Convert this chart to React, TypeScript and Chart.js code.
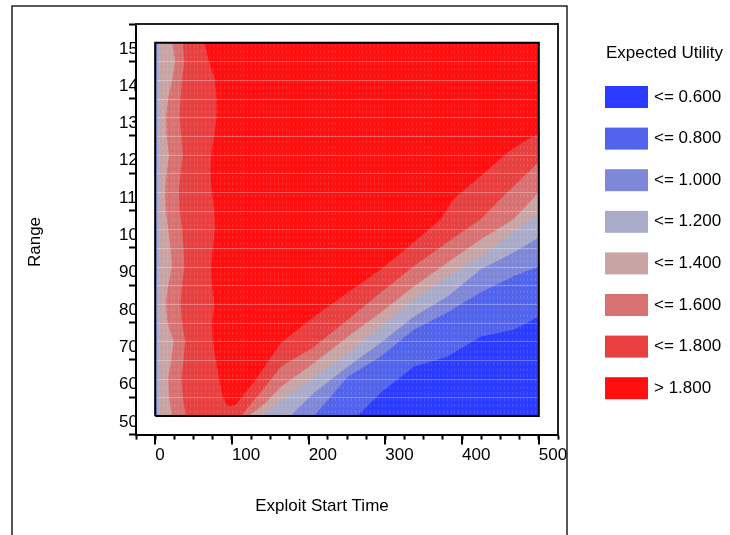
import { useEffect, useRef } from 'react';
import { Chart, registerables } from 'chart.js';

Chart.register(...registerables);

// ---- data domain ----
const timeMin = 0;
const timeMax = 500;
const rangeMin = 55;
const rangeMax = 155;

// ---- ticks ----
const xTickLabels = [0, 100, 200, 300, 400, 500];
const yTickLabels = [50, 60, 70, 80, 90, 100, 110, 120, 130, 140, 150];

const xTitle = 'Exploit Start Time';
const yTitle = 'Range';
const legendTitle = 'Expected Utility';

// ---- contour classes (lowest first) ----
const levelLabels = ['<= 0.600', '<= 0.800', '<= 1.000', '<= 1.200', '<= 1.400', '<= 1.600', '<= 1.800', '> 1.800'];
const levelColors = ['#2b3bff', '#5263ec', '#7f87d9', '#a9abc9', '#c8a4a4', '#d87272', '#e84040', '#ff0f0f'];

// Range rows at which the left-strip boundaries were read
const rangeRows = [155, 150, 145, 140, 135, 130, 125, 120, 115, 110, 105, 100, 95, 90, 85, 80, 75, 70, 65, 60, 55];

// boundary of the region "<= 1.800" (left strip, round the bottom tip of the red area, then the diagonal)
const edge18Time = [64, 70, 78, 80, 80, 77, 73, 72, 74, 77, 78, 75, 73, 74, 77, 74, 75, 79, 83, 88, 95, 105, 131, 164, 207, 251, 294, 337, 372, 389, 424, 460, 486, 500];
const edge18Range = [155, 150, 145, 140, 135, 130, 125, 120, 115, 110, 105, 100, 95, 90, 85, 80, 75, 70, 65, 60, 57.5, 58, 64.7, 74.6, 81.6, 88.1, 94.2, 101.5, 107.7, 113.1, 119.2, 125.7, 129.2, 130.5];

// "<= 1.600": left strip then diagonal
const left16Time = [36, 38, 35, 33, 32, 34, 36, 33, 31, 32, 35, 37, 38, 35, 33, 35, 39, 37, 34, 36, 40];
const diag16Time = [112, 138, 164, 207, 251, 294, 337, 381, 424, 450, 477, 500];
const diag16Range = [55, 61.5, 68.2, 73.5, 80.8, 88.1, 95.1, 101.5, 107.7, 113.1, 118.5, 123];

// "<= 1.400"
const left14Time = [22, 26, 22, 17, 14, 15, 18, 15, 13, 14, 17, 20, 22, 17, 14, 16, 24, 21, 17, 18, 22];
const diag14Time = [122, 144, 164, 207, 251, 294, 337, 381, 424, 467, 500];
const diag14Range = [55, 58.5, 62.8, 69.2, 76.2, 82.7, 89.7, 96.1, 102.3, 107.7, 114.9];

// "<= 1.200"
const left12Time = [6, 6, 5, 5, 5, 4, 5, 6, 5, 4, 5, 6, 6, 5, 4, 5, 6, 5, 5, 5, 6];
const diag12Time = [138, 164, 207, 251, 294, 337, 381, 424, 467, 500];
const diag12Range = [55, 59.3, 65.5, 71.9, 78.9, 86.2, 92.4, 97.7, 104.2, 109];

// "<= 1.000"
const left10Time = [2.5, 2.5, 2, 2, 2, 2, 2.5, 2, 2, 2, 2, 2.5, 2.5, 2, 2, 2, 2.5, 2, 2, 2, 2.5];
const diag10Time = [176, 207, 251, 294, 337, 381, 424, 467, 500];
const diag10Range = [55, 61.2, 68.2, 74.6, 81.6, 87, 94.2, 98.8, 102.8];

// "<= 0.800"
const diag08Time = [207, 251, 294, 337, 381, 424, 467, 500];
const diag08Range = [55, 65.5, 70.9, 78.1, 82.7, 88.1, 92.4, 95.1];

// "<= 0.600"
const diag06Time = [264, 294, 337, 381, 424, 467, 500];
const diag06Range = [55, 61.2, 68.2, 70.9, 76.2, 78.1, 81.6];

// faint mesh of the contour grid (row spacing in Range, column spacing in time)
const meshRangeStep = 5;
const meshTimeStep = 5;

type Pt = { x: number; y: number };

function regionPolygon(time: number[], range: number[]): Pt[] {
  const pts: Pt[] = [];
  if (range[0] === rangeMax) {
    pts.push({ x: timeMin, y: rangeMin }, { x: timeMin, y: rangeMax });
  }
  time.forEach((t, i) => pts.push({ x: t, y: range[i] }));
  pts.push({ x: timeMax, y: rangeMin });
  return pts;
}

const FONT = '"Liberation Sans", Arial, Helvetica, sans-serif';

const meshPlugin = {
  id: 'mesh',
  afterDatasetsDraw(chart: any) {
    const { ctx, scales } = chart;
    const xs = scales.x;
    const ys = scales.y;
    const l = xs.getPixelForValue(timeMin) + 1.5;
    const r = xs.getPixelForValue(timeMax) - 1.5;
    const t = ys.getPixelForValue(rangeMax) + 1.5;
    const b = ys.getPixelForValue(rangeMin) - 1.5;
    ctx.save();
    ctx.beginPath();
    ctx.rect(l, t, r - l, b - t);
    ctx.clip();
    // faint vertical dashes
    ctx.strokeStyle = 'rgba(255,255,255,0.13)';
    ctx.lineWidth = 1;
    ctx.setLineDash([3, 3]);
    for (let v = timeMin + meshTimeStep; v < timeMax; v += meshTimeStep) {
      const px = Math.round(xs.getPixelForValue(v)) + 0.5;
      ctx.beginPath();
      ctx.moveTo(px, t);
      ctx.lineTo(px, b);
      ctx.stroke();
    }
    ctx.setLineDash([]);
    // faint horizontal lines
    ctx.strokeStyle = 'rgba(255,255,255,0.3)';
    for (let v = rangeMin + meshRangeStep; v < rangeMax; v += meshRangeStep) {
      const py = Math.round(ys.getPixelForValue(v)) + 0.5;
      ctx.beginPath();
      ctx.moveTo(l, py);
      ctx.lineTo(r, py);
      ctx.stroke();
    }
    ctx.restore();
  },
};

const decorPlugin = {
  id: 'decor',
  afterDraw(chart: any) {
    const { ctx, chartArea: a, scales } = chart;
    const xs = scales.x;
    const ys = scales.y;
    ctx.save();

    // longer major ticks on the x axis
    ctx.strokeStyle = '#000';
    ctx.lineWidth = 2;
    xTickLabels.forEach((v) => {
      const px = Math.round(xs.getPixelForValue(v));
      ctx.beginPath();
      ctx.moveTo(px, a.bottom);
      ctx.lineTo(px, a.bottom + 10);
      ctx.stroke();
    });

    // y tick labels, drawn above their ticks and clipped at the axis line
    ctx.save();
    ctx.beginPath();
    ctx.rect(0, 0, a.left - 1, chart.height);
    ctx.clip();
    ctx.font = `17px ${FONT}`;
    ctx.fillStyle = '#000';
    ctx.textAlign = 'left';
    ctx.textBaseline = 'middle';
    yTickLabels.forEach((v) => {
      ctx.fillText(String(v), a.left - 17, ys.getPixelForValue(v) - 12.5);
    });
    ctx.restore();

    // axis titles
    ctx.font = `17px ${FONT}`;
    ctx.fillStyle = '#000';
    ctx.textAlign = 'center';
    ctx.textBaseline = 'middle';
    ctx.fillText(xTitle, a.left + 186, a.bottom + 72);
    ctx.save();
    ctx.translate(35, 242);
    ctx.rotate(-Math.PI / 2);
    ctx.fillText(yTitle, 0, 0);
    ctx.restore();

    // legend
    ctx.fillText(legendTitle, 664.5, 53);
    ctx.textAlign = 'left';
    levelLabels.forEach((lab, i) => {
      const top = 86 + i * 41.6;
      ctx.fillStyle = levelColors[i];
      ctx.fillRect(605, top, 43, 22);
      ctx.fillStyle = '#000';
      ctx.fillText(lab, 654, top + 11);
    });

    // outer frame
    ctx.strokeStyle = '#222';
    ctx.lineWidth = 1.5;
    ctx.beginPath();
    ctx.moveTo(12, chart.height);
    ctx.lineTo(12, 6);
    ctx.lineTo(567, 6);
    ctx.lineTo(567, chart.height);
    ctx.stroke();

    ctx.restore();
  },
};

export default function App() {
  const canvasRef = useRef<HTMLCanvasElement | null>(null);

  useEffect(() => {
    const canvas = canvasRef.current;
    if (!canvas) return;
    Chart.defaults.font.family = FONT;
    Chart.defaults.font.size = 17;
    Chart.defaults.color = '#000';

    const common = {
      borderWidth: 0,
      borderColor: 'rgba(0,0,0,0)',
      pointRadius: 0,
      tension: 0,
      fill: 'shape',
    };

    const datasets: any[] = [
      { ...common, label: '> 1.800', data: regionPolygon([timeMin, timeMax], [rangeMax, rangeMax]), backgroundColor: levelColors[7], order: 8 },
      { ...common, label: '<= 1.800', data: regionPolygon(edge18Time, edge18Range), backgroundColor: levelColors[6], order: 7 },
      { ...common, label: '<= 1.600', data: regionPolygon([...left16Time, ...diag16Time], [...rangeRows, ...diag16Range]), backgroundColor: levelColors[5], order: 6 },
      { ...common, label: '<= 1.400', data: regionPolygon([...left14Time, ...diag14Time], [...rangeRows, ...diag14Range]), backgroundColor: levelColors[4], order: 5 },
      { ...common, label: '<= 1.200', data: regionPolygon([...left12Time, ...diag12Time], [...rangeRows, ...diag12Range]), backgroundColor: levelColors[3], order: 4 },
      { ...common, label: '<= 1.000', data: regionPolygon([...left10Time, ...diag10Time], [...rangeRows, ...diag10Range]), backgroundColor: levelColors[2], order: 3 },
      { ...common, label: '<= 0.800', data: regionPolygon(diag08Time, diag08Range), backgroundColor: levelColors[1], order: 2 },
      { ...common, label: '<= 0.600', data: regionPolygon(diag06Time, diag06Range), backgroundColor: levelColors[0], order: 1 },
      {
        label: 'frame',
        data: [
          { x: timeMin, y: rangeMin },
          { x: timeMin, y: rangeMax },
          { x: timeMax, y: rangeMax },
          { x: timeMax, y: rangeMin },
          { x: timeMin, y: rangeMin },
        ],
        borderColor: '#000',
        borderWidth: 2,
        pointRadius: 0,
        fill: false,
        tension: 0,
        order: 0,
      },
    ];

    const chart = new Chart(canvas, {
      type: 'line',
      data: { datasets },
      options: {
        animation: false,
        responsive: false,
        events: [],
        layout: { padding: { left: 129, top: 24, right: 172, bottom: 63 } },
        plugins: {
          legend: { display: false },
          tooltip: { enabled: false },
        },
        scales: {
          x: {
            type: 'linear',
            position: 'bottom',
            min: -25,
            max: 525,
            ticks: {
              stepSize: 25,
              autoSkip: false,
              maxRotation: 0,
              minRotation: 0,
              align: 'start',
              padding: 6,
              color: '#000',
              font: { size: 17 },
              callback: (v: any) => (xTickLabels.includes(Number(v)) ? String(v) : ''),
            },
            grid: { display: true, drawOnChartArea: false, drawTicks: true, tickLength: 5, tickWidth: 2, tickColor: '#000' },
            border: { display: true, color: '#000', width: 2 },
          },
          y: {
            type: 'linear',
            position: 'left',
            min: 50,
            max: 160,
            ticks: { stepSize: 10, display: false },
            grid: { display: true, drawOnChartArea: false, drawTicks: true, tickLength: 7, tickWidth: 2, tickColor: '#000' },
            border: { display: true, color: '#000', width: 2 },
          },
          x2: {
            type: 'linear',
            position: 'top',
            min: -25,
            max: 525,
            ticks: { display: false },
            grid: { display: false, drawTicks: false },
            border: { display: true, color: '#222', width: 2 },
          },
          y2: {
            type: 'linear',
            position: 'right',
            min: 50,
            max: 160,
            ticks: { display: false },
            grid: { display: false, drawTicks: false },
            border: { display: true, color: '#222', width: 2 },
          },
        },
      } as any,
      plugins: [meshPlugin, decorPlugin],
    });

    return () => chart.destroy();
  }, []);

  return (
    <div style={{ position: 'absolute', left: 0, top: 0, width: 730, height: 535, background: '#fff' }}>
      <canvas ref={canvasRef} width={730} height={535} style={{ display: 'block' }} />
    </div>
  );
}
